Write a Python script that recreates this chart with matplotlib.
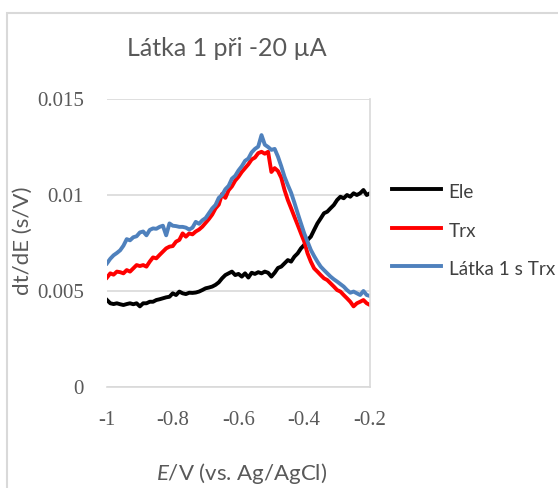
import numpy as np
import matplotlib
matplotlib.use("Agg")
from matplotlib import pyplot as plt
from matplotlib.patches import Rectangle

# potential axis (V vs. Ag/AgCl), 10 mV steps from -1 V to -0.2 V
potential = [round(-1 + 0.01 * i, 2) for i in range(81)]

# dt/dE (s/V)
ele = [0.00453, 0.00436, 0.00432, 0.00436, 0.00431, 0.00427, 0.00432, 0.00436, 0.00431, 0.00436,
       0.00420, 0.00436, 0.00436, 0.00444, 0.00444, 0.00453, 0.00457, 0.00462, 0.00467, 0.00470,
       0.00488, 0.00479, 0.00497, 0.00488, 0.00484, 0.00491, 0.00490, 0.00492, 0.00497, 0.00505,
       0.00514, 0.00518, 0.00523, 0.00532, 0.00545, 0.00566, 0.00583, 0.00592, 0.00601, 0.00583,
       0.00589, 0.00575, 0.00592, 0.00570, 0.00595, 0.00589, 0.00598, 0.00592, 0.00601, 0.00595,
       0.00575, 0.00595, 0.00620, 0.00627, 0.00644, 0.00661, 0.00653, 0.00679, 0.00696, 0.00722,
       0.00740, 0.00766, 0.00783, 0.00818, 0.00852, 0.00878, 0.00905, 0.00913, 0.00931, 0.00948,
       0.00974, 0.00991, 0.00983, 0.01000, 0.00991, 0.01009, 0.01000, 0.01009, 0.01026, 0.01000,
       0.01009]

trx = [0.00570, 0.00592, 0.00585, 0.00601, 0.00598, 0.00592, 0.00609, 0.00601, 0.00618, 0.00635,
       0.00630, 0.00635, 0.00627, 0.00653, 0.00675, 0.00670, 0.00688, 0.00705, 0.00722, 0.00731,
       0.00734, 0.00757, 0.00766, 0.00800, 0.00783, 0.00800, 0.00795, 0.00810, 0.00820, 0.00835,
       0.00855, 0.00875, 0.00898, 0.00930, 0.00950, 0.01005, 0.00985, 0.01025, 0.01045, 0.01075,
       0.01095, 0.01120, 0.01140, 0.01160, 0.01185, 0.01195, 0.01218, 0.01225, 0.01215, 0.01225,
       0.01120, 0.01140, 0.01125, 0.01090, 0.01026, 0.00974, 0.00931, 0.00887, 0.00844, 0.00800,
       0.00757, 0.00696, 0.00653, 0.00618, 0.00601, 0.00583, 0.00566, 0.00557, 0.00540, 0.00523,
       0.00505, 0.00497, 0.00479, 0.00462, 0.00444, 0.00420, 0.00436, 0.00444, 0.00453, 0.00436,
       0.00427]

latka = [0.00644, 0.00668, 0.00686, 0.00698, 0.00712, 0.00736, 0.00770, 0.00764, 0.00780, 0.00785,
         0.00805, 0.00810, 0.00790, 0.00818, 0.00826, 0.00824, 0.00834, 0.00840, 0.00790, 0.00852,
         0.00840, 0.00838, 0.00834, 0.00834, 0.00830, 0.00820, 0.00830, 0.00860, 0.00850, 0.00868,
         0.00880, 0.00905, 0.00930, 0.00948, 0.00985, 0.01000, 0.01030, 0.01048, 0.01085, 0.01100,
         0.01128, 0.01150, 0.01178, 0.01190, 0.01222, 0.01240, 0.01252, 0.01312, 0.01262, 0.01250,
         0.01235, 0.01240, 0.01200, 0.01150, 0.01095, 0.01052, 0.01012, 0.00960, 0.00905, 0.00852,
         0.00800, 0.00757, 0.00714, 0.00682, 0.00653, 0.00627, 0.00609, 0.00592, 0.00575, 0.00561,
         0.00549, 0.00536, 0.00523, 0.00505, 0.00491, 0.00497, 0.00488, 0.00479, 0.00500, 0.00479,
         0.00474]

x_ticks = [-1, -0.8, -0.6, -0.4, -0.2]
x_tick_labels = ["-1", "-0.8", "-0.6", "-0.4", "-0.2"]
y_ticks = [0, 0.005, 0.01, 0.015]
y_tick_labels = ["0", "0.005", "0.01", "0.015"]

plt.rcParams['font.family'] = ['Lato', 'DejaVu Sans']
plt.rcParams['mathtext.fontset'] = 'custom'
plt.rcParams['mathtext.it'] = 'Lato:italic'
plt.rcParams['mathtext.rm'] = 'Lato'

W, H = 558, 488
fig = plt.figure(figsize=(W / 100, H / 100), dpi=100)
grey = "#595959"
gridc = "#d9d9d9"

# outer chart border (cut off at right/bottom)
fig.patches.append(Rectangle((7 / W, -0.1), 1.2, 1 - 13 / H + 0.1, transform=fig.transFigure,
                             fill=False, edgecolor=gridc, linewidth=1.5))

ax = fig.add_axes([107 / W, 1 - 387 / H, 263 / W, 288 / H])
ax.plot(potential, ele, color="black", lw=2.8, label="Ele")
ax.plot(potential, trx, color="#ff0000", lw=2.8, label="Trx")
ax.plot(potential, latka, color="#4f81bd", lw=2.8, label="Látka 1 s Trx")

ax.set_xlim(-1, -0.2)
ax.set_ylim(0, 0.015)
ax.set_xticks(x_ticks)
ax.set_xticklabels(x_tick_labels)
ax.set_yticks(y_ticks)
ax.set_yticklabels(y_tick_labels)
ax.tick_params(length=0, labelsize=15, colors=grey)
for lab in ax.get_xticklabels() + ax.get_yticklabels():
    lab.set_family('Liberation Serif')
ax.tick_params(axis='x', pad=17)
ax.tick_params(axis='y', pad=16.5)
ax.grid(axis='y', color=gridc, lw=1.2)
ax.set_axisbelow(True)
for s in ["left", "top"]:
    ax.spines[s].set_visible(False)
ax.spines["bottom"].set_color(gridc)
ax.spines["right"].set_color(gridc)
ax.spines["bottom"].set_linewidth(1.2)
ax.spines["right"].set_linewidth(1.2)

ax.set_xlabel("$\\it{E}$/V (vs. Ag/AgCl)", fontsize=16, color=grey)
ax.xaxis.set_label_coords((242 - 107) / 263, (387 - 461) / 288)
ax.set_ylabel("dt/dE (s/V)", fontsize=16, color=grey)
ax.yaxis.set_label_coords((33 - 107) / 263, (387 - 241) / 288)

fig.text(227 / W, 1 - 48 / H, "Látka 1 při -20 µA", fontsize=18, color=grey,
         ha="center", va="center")

leg = ax.legend(loc="upper left", bbox_to_anchor=(392 / W, 1 - 180 / H),
                bbox_transform=fig.transFigure, frameon=False, fontsize=13.6,
                handlelength=2.6, handleheight=1.6, handletextpad=0.4,
                labelspacing=0.75, borderpad=0, borderaxespad=0)
for t in leg.get_texts():
    t.set_color("#404040")

fig.savefig("out.png", dpi=100)
